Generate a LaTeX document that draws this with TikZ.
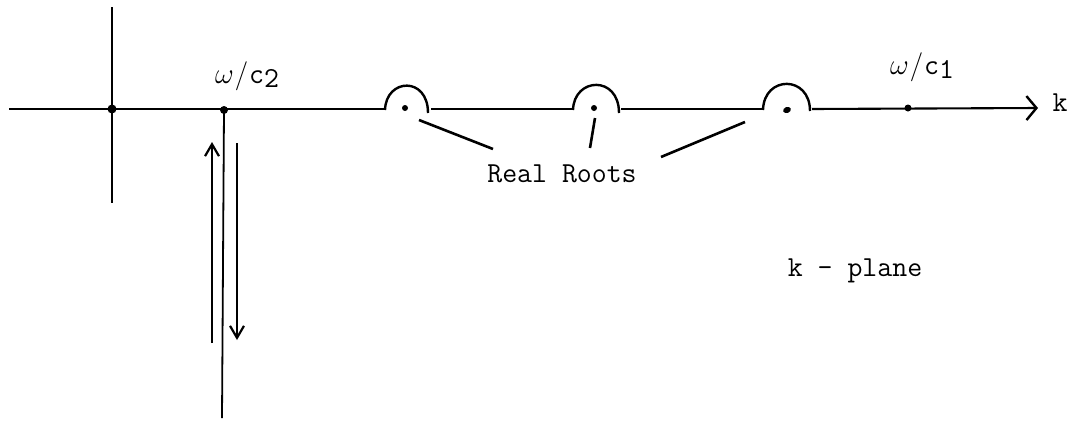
\RequirePackage{fix-cm}
\documentclass[tikz,border=0pt]{standalone}
\usepackage{fontspec}
\usetikzlibrary{arrows.meta, shapes.geometric}

\tikzset{
  dot/.style={circle, fill=black, inner sep=0pt, minimum size=#1},
  dot/.default=6pt,
  bump/.style={line width=2.4pt},
  pointer/.style={line width=2.6pt},
  label/.style={font=\fontsize{29}{32}\selectfont\ttfamily, inner sep=0pt},
  barb/.style={-{Straight Barb[length=10pt, width=24pt, line width=2.4pt]}},
  updown/.style={line width=2.2pt, -{Straight Barb[length=12pt, width=14pt, line width=2.2pt]}},
}

\begin{document}
\begin{tikzpicture}[x=1pt, y=-1pt, line width=2.1pt]
    \useasboundingbox (0,0) rectangle (1077,421);
    % axes
    \coordinate (left) at (9,109);
    \coordinate (tip) at (1038,108);
    \coordinate (imtop) at (112,7);
    \coordinate (imbot) at (112,203);
    \node[dot=9pt] (origin) at (112,109) {};
    \draw (imtop) -- (imbot);
    % real roots with indentations
    \node[dot=6pt] (r1) at (405,108) {};
    \node[dot=6pt] (r2) at (594,108) {};
    \node[ellipse, fill=black, inner sep=0pt, minimum width=8pt, minimum height=6pt, rotate=20] (r3) at (787,110) {};
    \draw (left) -- (385,109);
    \draw[bump] (385,110) .. controls (386,78) and (428,76) .. (428,113);
    \draw (431,109) -- (573,109);
    \draw[bump] (573,110) .. controls (574,77) and (619,75) .. (619,113);
    \draw (621,109) -- (763,109);
    \draw[bump] (763,110) .. controls (764,75) and (810,75) .. (810,111);
    \draw[barb] (812,109) -- (tip);
    \node[label] (k) at (1060,103) {k};
    % branch points
    \node[dot=8pt] (c2) at (224,110) {};
    \node[dot=7pt] (c1) at (908,108) {};
    \node[label, font=\fontsize{29}{32}\selectfont] (c2lbl) at (247,76)
        {$\omega$\hspace{1pt}/\hspace{1pt}\texttt{c\raisebox{-0.35ex}{2}}};
    \node[label, font=\fontsize{29}{32}\selectfont] (c1lbl) at (922,67)
        {$\omega$\hspace{1pt}/\hspace{1pt}\texttt{c\raisebox{-0.35ex}{1}}};
    % branch cut and contour
    \coordinate (cutend) at (222,418);
    \draw[line width=1.8pt] (c2.center) -- (cutend);
    \coordinate (upfrom) at (212,343);
    \coordinate (upto) at (212,142);
    \coordinate (downfrom) at (237,143);
    \coordinate (downto) at (237,340);
    \draw[updown] (upfrom) -- (upto);
    \draw[updown] (downfrom) -- (downto);
    % labels
    \node[label] (roots) at (562,174) {Real Roots};
    \coordinate (p1) at (493,149);
    \coordinate (p2) at (590,148);
    \coordinate (p3) at (661,157);
    \draw[pointer] (419,120) -- (p1);
    \draw[pointer] (595,118) -- (p2);
    \draw[pointer] (745,122) -- (p3);
    \node[label] (plane) at (855,271) {k - plane};
\end{tikzpicture}
\end{document}
